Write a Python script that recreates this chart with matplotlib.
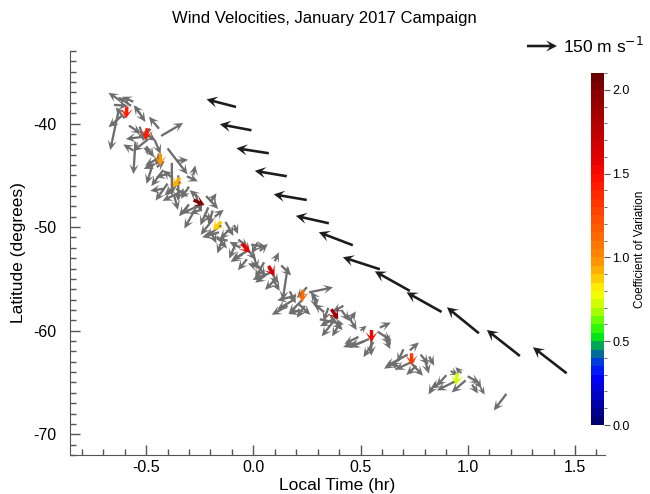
import matplotlib
matplotlib.use("Agg")
import matplotlib.pyplot as plt
import numpy as np
from matplotlib.colors import LinearSegmentedColormap, Normalize
from matplotlib.ticker import MultipleLocator, FormatStrFormatter

plt.rcParams['font.family'] = ['Liberation Sans', 'DejaVu Sans']
plt.rcParams['axes.unicode_minus'] = False

# ---- data -------------------------------------------------------------
# mean (model) winds: local time [hr], latitude [deg], u, v [m/s]
mean_lt = [-0.081, -0.009, 0.072, 0.156, 0.249, 0.352, 0.464, 0.590, 0.730, 0.878, 1.052, 1.243, 1.461]
mean_lat = [-38.40, -40.65, -42.87, -45.09, -47.38, -49.63, -51.75, -54.07, -56.16, -58.19, -60.25, -62.44, -64.11]
mean_u = [-147, -158, -162, -160, -165, -165, -170, -185, -175, -175, -160, -165, -168]
mean_v = [38, 30, 25, 27, 28, 37, 65, 60, 98, 98, 130, 130, 130]

# binned averages coloured by coefficient of variation
bin_lt = [-0.592, -0.499, -0.434, -0.359, -0.253, -0.169, -0.035, 0.085, 0.229, 0.380, 0.551, 0.738, 0.948]
bin_lat = [-38.94, -41.03, -43.51, -45.70, -47.63, -49.89, -52.04, -54.23, -56.65, -58.41, -60.51, -62.76, -64.69]
bin_u = [-5, -10, 0, -35, 55, -40, 40, 30, -5, 35, 0, 0, -5]
bin_v = [-60, -60, -60, -50, -25, -45, -45, -50, -60, -50, -60, -60, -60]
bin_cv = [1.42, 1.40, 0.98, 0.93, 2.0, 0.86, 1.58, 1.60, 1.13, 1.88, 1.52, 1.33, 0.70]

# individual measurements
gray_lt = [
    -0.62, -0.57, -0.63, -0.55, -0.60, -0.53, -0.58, -0.65,
    -0.43, -0.55, -0.52, -0.48, -0.46, -0.56, -0.50, -0.44, -0.53,
    -0.36, -0.40, -0.46, -0.38, -0.48, -0.42, -0.45, -0.39, -0.44,
    -0.35, -0.31, -0.28, -0.40, -0.42, -0.33, -0.37, -0.30, -0.38,
    -0.27, -0.22, -0.30, -0.24, -0.20, -0.28, -0.26, -0.19, -0.23,
    -0.19, -0.13, -0.16, -0.11, -0.20, -0.14, -0.18, -0.09, -0.12,
    -0.08, -0.01, 0.02, -0.05, 0.00, -0.07, 0.03, -0.03, -0.06,
    0.05, 0.10, 0.16, 0.06, 0.13, 0.04, 0.09, 0.02, 0.11,
    0.19, 0.26, 0.28, 0.21, 0.24, 0.17, 0.30, 0.25, 0.22, 0.16,
    0.35, 0.41, 0.44, 0.37, 0.31, 0.40, 0.45, 0.33, 0.42,
    0.49, 0.55, 0.58, 0.52, 0.61, 0.47, 0.59, 0.50, 0.62,
    0.72, 0.70, 0.78, 0.80, 0.67, 0.76, 0.82, 0.73, 0.69,
    0.90, 0.88, 0.85, 1.00, 1.04, 0.97, 0.92, 1.02, 1.06, 1.18,
    -0.61, -0.56, -0.49, -0.51, -0.43, -0.47, -0.34, -0.36, -0.25, -0.21,
    -0.15, -0.17, -0.02, -0.04, 0.08, 0.07, 0.23, 0.20, 0.39, 0.36,
    0.54, 0.56, 0.75, 0.74, 0.94, 0.99]
gray_lat = [
    -37.8, -38.3, -38.9, -38.4, -39.5, -39.0, -40.2, -38.2,
    -41.2, -41.8, -41.3, -40.5, -41.6, -42.6, -42.2, -40.5, -40.3,
    -43.6, -42.4, -43.9, -43.8, -42.8, -44.5, -44.2, -44.8, -42.9,
    -45.0, -45.1, -45.0, -45.8, -46.3, -46.5, -46.9, -46.1, -45.2,
    -46.8, -47.0, -47.8, -48.3, -47.6, -48.6, -47.1, -48.4, -48.8,
    -49.3, -49.5, -50.5, -50.2, -50.4, -51.0, -49.0, -49.8, -51.3,
    -51.5, -51.7, -51.5, -52.6, -52.6, -51.2, -52.3, -53.1, -52.0,
    -53.4, -53.3, -53.9, -54.6, -53.7, -54.0, -55.0, -53.7, -54.9,
    -57.0, -56.3, -56.5, -57.4, -57.6, -56.2, -57.2, -55.8, -58.0, -57.6,
    -57.8, -58.0, -58.5, -59.2, -58.9, -59.4, -59.0, -58.2, -57.6,
    -60.6, -60.3, -60.1, -61.0, -60.4, -61.2, -59.7, -60.0, -61.0,
    -62.3, -61.8, -62.3, -62.8, -62.9, -63.4, -62.5, -61.9, -63.6,
    -64.3, -64.9, -65.0, -64.4, -64.8, -64.1, -63.9, -65.2, -65.5, -66.1,
    -39.2, -37.9, -41.5, -40.9, -43.2, -44.0, -45.6, -46.3, -47.9, -48.1,
    -49.8, -50.9, -52.2, -51.8, -54.4, -53.9, -57.0, -56.6, -58.7, -58.6,
    -60.8, -61.1, -62.9, -63.2, -64.9, -64.8]
gray_u = [
    -60, -65, -40, 50, -45, -30, 60, 70,
    110, -10, -80, -40, 30, -50, 40, -50, 20,
    60, 100, -55, 0, -35, -60, 40, -70, -15,
    0, 55, 10, -60, -65, -100, 20, -40, -45,
    30, 60, -50, -60, 30, -45, -40, -20, 45,
    -60, 40, -85, -50, 30, -30, 45, 20, -60,
    -35, 75, -30, -60, 20, 50, 40, -45, -55,
    -45, 20, -25, -55, 50, -70, 35, 40, -60,
    -85, 120, 15, 60, -40, 30, -35, -50, -60, -80,
    -25, 40, 45, -55, 120, -35, 30, -50, -55,
    -70, 0, 70, -80, 35, -55, 55, 30, 20,
    -110, -30, 40, 20, -65, -50, 25, 45, -55,
    -50, -55, -35, 60, 25, -30, 40, 30, 20, -63,
    -70, -55, -75, 60, -80, -30, -80, 60, -90, -40,
    -75, 50, -85, 55, -90, 50, -70, -95, -85, 60,
    -95, -50, -95, 55, -90, -70]
gray_v = [
    40, 45, -190, -75, 55, 40, -40, -5,
    65, -160, -10, -60, -70, 30, -55, 60, -70,
    5, -130, -25, -165, 25, -80, 30, -20, -60,
    -130, -25, 50, -85, -10, -50, -75, -60, 35,
    -90, -65, -60, -20, 45, -80, 35, -75, -30,
    -75, -70, -25, -50, -60, -80, 35, -45, 10,
    -80, -10, -55, -40, -75, -40, 35, -55, 30,
    -80, 45, -165, -40, -50, 25, -60, -55, -60,
    -50, 25, -70, -55, -60, -60, 50, -55, -20, -45,
    -65, -55, -75, -70, -25, -60, 45, 40, -30,
    -35, -110, -45, -30, -50, -20, 25, 25, -40,
    -60, -65, -50, -70, -40, -45, -45, 40, 25,
    -55, -35, -60, -35, -40, 30, -20, -45, -35, -83,
    -60, 25, -60, -40, -45, -95, -70, -40, -40, -90,
    -60, -60, -50, -70, -35, -80, -70, -25, -45, -70,
    -40, -75, -45, -60, -45, -60]

key_speed = 150
cv_ticks = [0.0, 0.5, 1.0, 1.5, 2.0]

# ---- colormap ---------------------------------------------------------
cv_max = 2.1
stops = [(0.0, (0.0, 0.0, 0.45)), (0.15, (0.0, 0.0, 0.75)), (0.27, (0.0, 0.0, 1.0)),
         (0.35, (0.0, 0.2, 0.9)), (0.43, (0.0, 0.5, 0.5)), (0.51, (0.0, 0.9, 0.1)),
         (0.59, (0.3, 1.0, 0.0)), (0.69, (0.75, 1.0, 0.0)), (0.79, (1.0, 1.0, 0.0)),
         (0.89, (1.0, 0.75, 0.0)), (0.99, (1.0, 0.55, 0.0)), (1.09, (1.0, 0.45, 0.0)),
         (1.29, (1.0, 0.25, 0.0)), (1.49, (1.0, 0.05, 0.0)), (1.59, (0.9, 0.0, 0.0)),
         (1.79, (0.72, 0.0, 0.0)), (2.0, (0.55, 0.0, 0.0)), (2.1, (0.42, 0.0, 0.0))]
cmap = LinearSegmentedColormap.from_list('cv', [(v / cv_max, c) for v, c in stops], N=42)
norm = Normalize(vmin=0.0, vmax=cv_max)

# ---- figure -----------------------------------------------------------
fig = plt.figure(figsize=(6.5, 4.94), dpi=100)
ax = fig.add_axes([70 / 650, 39 / 494, 535 / 650, 404 / 494])

qkw = dict(angles='uv', scale_units='dots', scale=5.0, units='dots')
ax.quiver(gray_lt, gray_lat, gray_u, gray_v, color='#6e6e6e', width=2.3,
          headwidth=4.0, headlength=4.3, headaxislength=2.8, zorder=2, **qkw)
qb = ax.quiver(bin_lt, bin_lat, bin_u, bin_v, bin_cv, cmap=cmap, norm=norm, width=3.4,
               headwidth=3.6, headlength=3.0, headaxislength=1.7, pivot='middle', zorder=3, **qkw)
qm = ax.quiver(mean_lt, mean_lat, mean_u, mean_v, color='#1c1c1c', width=2.6,
               headwidth=4.3, headlength=4.2, headaxislength=2.8, zorder=4, **qkw)

ax.quiverkey(qm, 557 / 650, 1 - 46 / 494, key_speed, r'150 m s$^{-1}$', labelpos='E',
             coordinates='figure', labelsep=0.06, fontproperties={'size': 12.5})

ax.set_xlim(-0.855, 1.64)
ax.set_ylim(-72, -33)
ax.xaxis.set_major_locator(MultipleLocator(0.5))
ax.xaxis.set_minor_locator(MultipleLocator(0.1))
ax.xaxis.set_major_formatter(FormatStrFormatter('%.1f'))
ax.yaxis.set_major_locator(MultipleLocator(10))
ax.yaxis.set_minor_locator(MultipleLocator(1))
ax.tick_params(which='both', direction='in', colors='#555555', labelcolor='black', labelsize=11.5)
ax.tick_params(which='major', length=7, width=1)
ax.tick_params(which='minor', length=4, width=1)
ax.tick_params(axis='y', which='major', pad=10)
for s in ['top', 'right']:
    ax.spines[s].set_visible(False)
for s in ['left', 'bottom']:
    ax.spines[s].set_color('#555555')
ax.set_xlabel('Local Time (hr)', fontsize=12.5, labelpad=2)
ax.set_ylabel('Latitude (degrees)', fontsize=12.5, labelpad=5)
ax.set_title('Wind Velocities, January 2017 Campaign', fontsize=12, pad=20)
ax.title.set_position((0.476, 1.0))

cax = fig.add_axes([591 / 650, 69 / 494, 13 / 650, 352 / 494])
cb = fig.colorbar(qb, cax=cax, ticks=cv_ticks)
cb.outline.set_visible(False)
cb.ax.yaxis.set_major_formatter(FormatStrFormatter('%.1f'))
cb.ax.yaxis.set_minor_locator(MultipleLocator(0.1))
cb.ax.tick_params(which='major', length=4, pad=2, labelsize=9, colors='#555555', labelcolor='black')
cb.ax.tick_params(which='minor', length=2.5, colors='#555555')
cb.set_label('Coefficient of Variation', fontsize=8.5, labelpad=3)

fig.savefig('out.png', dpi=100)
